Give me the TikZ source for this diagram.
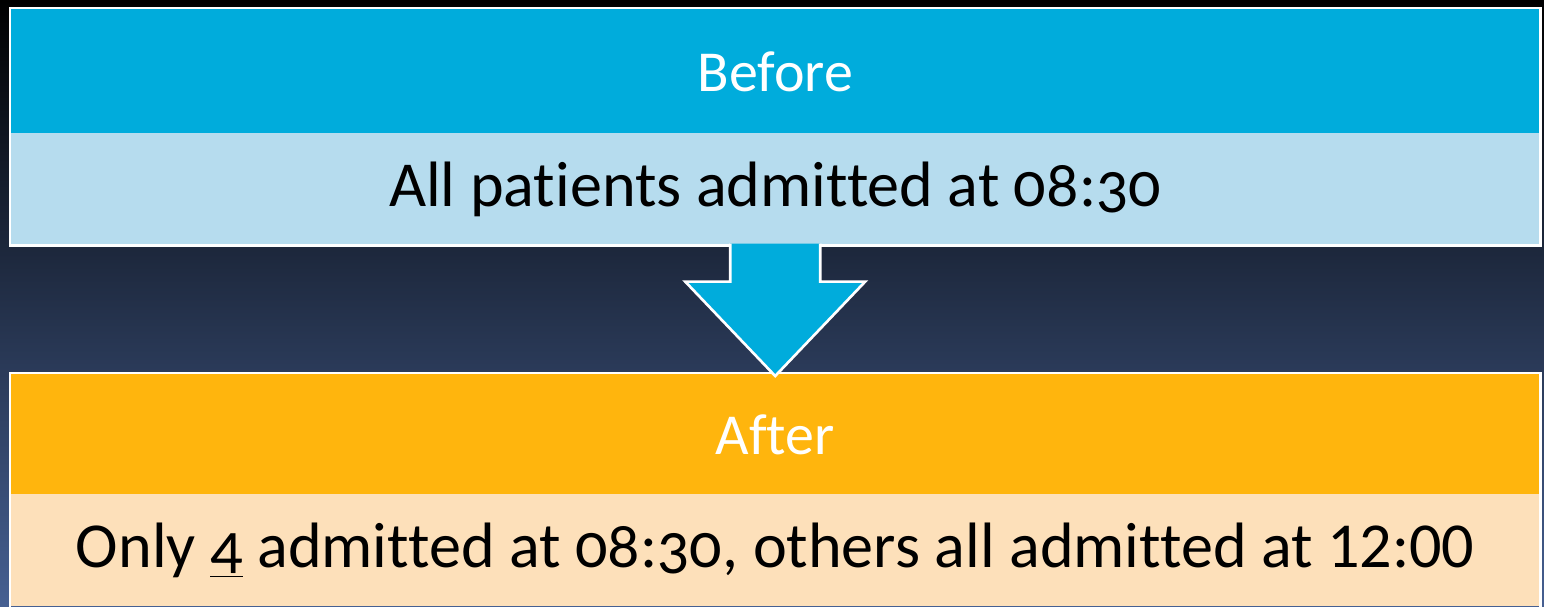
\documentclass[tikz,border=0pt]{standalone}
\usepackage{fontspec}
\setmainfont{Carlito}[Numbers=OldStyle,Ligatures=NoCommon]
\newfontfamily\linfont{Carlito}[Ligatures=NoCommon]
\usetikzlibrary{positioning,calc}
\definecolor{headblue}{RGB}{0,172,220}
\definecolor{bodyblue}{RGB}{182,220,238}
\definecolor{headorange}{RGB}{255,181,13}
\definecolor{bodypeach}{RGB}{253,224,186}
\definecolor{bgtop}{RGB}{0,0,0}
\definecolor{bgmid}{RGB}{16,19,27}
\definecolor{bgbottom}{RGB}{70,96,146}
\begin{document}
\begin{tikzpicture}[x=0.02cm,y=-0.02cm,
	head/.style={minimum width=30.6cm,minimum height=2.52cm,inner sep=0pt,text=white,font=\fontsize{33}{40}\selectfont},
	body/.style={minimum width=30.6cm,minimum height=2.24cm,inner sep=0pt,text=black,font=\fontsize{36.5}{44}\selectfont},
	outline/.style={draw=white,line width=1.5pt,line join=miter}]
	\useasboundingbox (0,0) rectangle (1544,607);
	\shade[top color=bgtop,middle color=bgmid,bottom color=bgbottom] (0,0) rectangle (1544,607);
	\node[head,fill=headblue,anchor=north west] (before) at (10,8) {Before};
	\node[body,fill=bodyblue,below=-1pt of before] (beforebody) {\raisebox{-3pt}{All patients admitted at 08:30}};
	\draw[outline] (before.north west) rectangle (beforebody.south east);
	\node[head,fill=headorange,anchor=north west,minimum height=2.44cm] (after) at (10,373) {After};
	\node[body,fill=bodypeach,below=-1pt of after] (afterbody) {\raisebox{-3pt}{Only \underline{4} admitted at 08:30, others all admitted at {\linfont 12:00}}};
	\draw[outline] (afterbody.south west) -- (after.north west) -- (after.north east) -- (afterbody.south east);
	\draw[outline,fill=headblue] ($(beforebody.south)+(-45,-2)$) -- ++(0,38) -- ++(-45,0) -- ($(after.north)+(0,3)$) -- ($(beforebody.south)+(90,36)$) -- ++(-45,0) -- ++(0,-38);
\end{tikzpicture}
\end{document}
